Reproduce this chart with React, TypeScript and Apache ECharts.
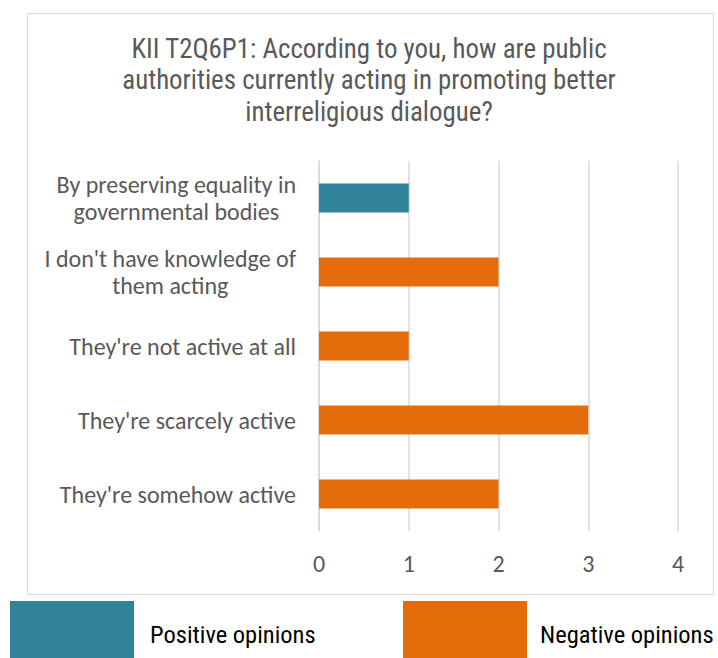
import React, { useEffect, useRef } from "react";
import * as echarts from "echarts";

const titleText =
  "KII T2Q6P1: According to you, how are public\nauthorities currently acting in promoting better\ninterreligious dialogue?";
const categories = [
  "By preserving equality in\ngovernmental bodies",
  "I don't have knowledge of\nthem acting",
  "They're not active at all",
  "They're scarcely active",
  "They're somehow active",
];
const positiveValues: (number | null)[] = [1, null, null, null, null];
const negativeValues: (number | null)[] = [null, 2, 1, 3, 2];
const seriesNames = ["Positive opinions", "Negative opinions"];

export default function App() {
  const ref = useRef<HTMLDivElement>(null);
  useEffect(() => {
    const chart = echarts.init(ref.current!, null, { renderer: "svg" });
    const axisFont = "Carlito, Lato, sans-serif";
    const condFont = "'Roboto Condensed', 'Liberation Sans Narrow', Roboto, sans-serif";
    chart.setOption({
      animation: false,
      graphic: [
        {
          type: "rect",
          shape: { x: 27.5, y: 13.5, width: 686, height: 581 },
          style: { fill: "#fff", stroke: "#d9d9d9", lineWidth: 1 },
          z: -10,
        },
        {
          type: "text",
          x: 369,
          y: 80,
          style: {
            text: titleText,
            font: `26.9px ${condFont}`,
            fill: "#595959",
            align: "center",
            verticalAlign: "middle",
            lineHeight: 31.5,
          },
        },
      ],
      grid: { left: 319, right: 40, top: 161, bottom: 127, containLabel: false },
      xAxis: {
        type: "value",
        min: 0,
        max: 4,
        interval: 1,
        axisLine: { show: false },
        axisTick: { show: false },
        splitLine: { lineStyle: { color: "#d9d9d9", width: 1.5 } },
        axisLabel: { fontSize: 24, color: "#595959", fontFamily: axisFont, margin: 20 },
      },
      yAxis: {
        type: "category",
        inverse: true,
        data: categories,
        axisLine: { show: true, lineStyle: { color: "#d9d9d9", width: 1.5 } },
        axisTick: { show: false },
        axisLabel: {
          margin: 23,
          align: "right",
          formatter: (v: string) => v.split("\n").map((l) => `{c|${l}}`).join("\n"),
          rich: {
            c: { align: "center", fontSize: 24, color: "#595959", fontFamily: axisFont, lineHeight: 27 },
          },
        },
      },
      legend: [
        {
          data: [seriesNames[0]],
          left: 5,
          top: 596,
          itemWidth: 124,
          itemHeight: 66,
          icon: "rect",
          textStyle: { fontSize: 24.5, color: "#000", fontFamily: condFont, padding: [0, 0, 0, 11] },
        },
        {
          data: [seriesNames[1]],
          left: 398,
          top: 596,
          itemWidth: 124,
          itemHeight: 66,
          icon: "rect",
          textStyle: { fontSize: 24.5, color: "#000", fontFamily: condFont, padding: [0, 0, 0, 8] },
        },
      ],
      series: [
        {
          name: seriesNames[0],
          type: "bar",
          stack: "total",
          data: positiveValues,
          barWidth: 29,
          itemStyle: { color: "#31849b" },
        },
        {
          name: seriesNames[1],
          type: "bar",
          stack: "total",
          data: negativeValues,
          barWidth: 29,
          itemStyle: { color: "#e46c0a" },
        },
      ],
    });
    return () => chart.dispose();
  }, []);
  return (
    <div
      ref={ref}
      style={{ position: "absolute", left: 0, top: 0, width: 718, height: 658, background: "#fff" }}
    />
  );
}
